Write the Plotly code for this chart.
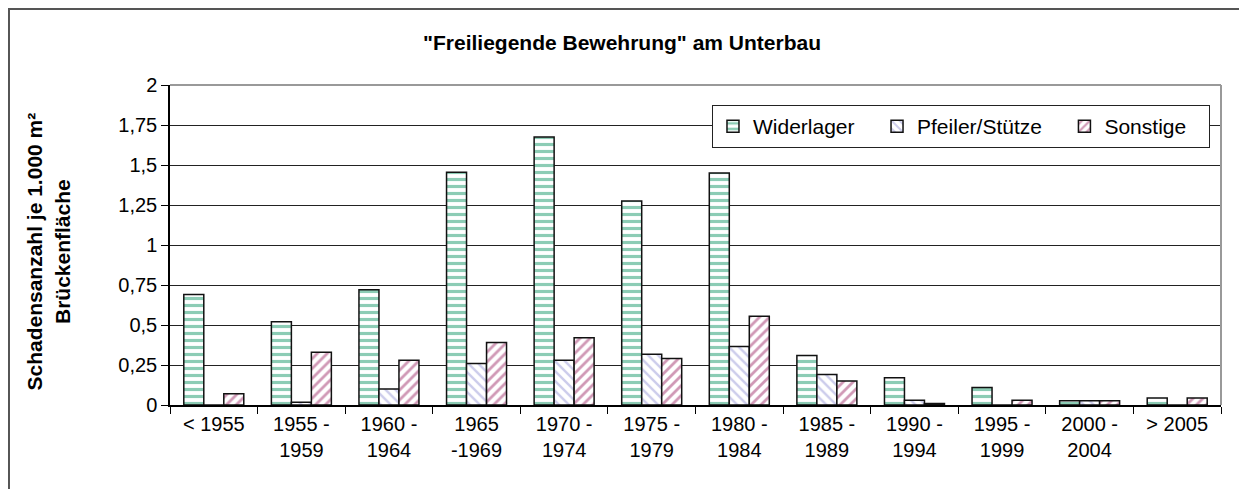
import plotly.graph_objects as go

categories = ["< 1955", "1955 -<br>1959", "1960 -<br>1964", "1965<br>-1969", "1970 -<br>1974",
              "1975 -<br>1979", "1980 -<br>1984", "1985 -<br>1989", "1990 -<br>1994",
              "1995 -<br>1999", "2000 -<br>2004", "> 2005"]
widerlager = [0.69, 0.52, 0.72, 1.455, 1.675, 1.275, 1.45, 0.31, 0.17, 0.11, 0.027, 0.044]
pfeiler = [0.0, 0.017, 0.10, 0.26, 0.28, 0.317, 0.365, 0.19, 0.03, 0.0, 0.027, 0.0]
sonstige = [0.07, 0.33, 0.28, 0.39, 0.42, 0.29, 0.555, 0.15, 0.01, 0.03, 0.027, 0.044]
tick_vals = [0, 0.25, 0.5, 0.75, 1, 1.25, 1.5, 1.75, 2]
tick_text = ["0", "0,25", "0,5", "0,75", "1", "1,25", "1,5", "1,75", "2"]

FONT = "Liberation Sans, Arial, sans-serif"
PAD = "\u00a0\u00a0\u00a0"

fig = go.Figure()
series = [
    ("Widerlager", widerlager, "#1a9a6c", "-", 0.45),
    ("Pfeiler/Stütze", pfeiler, "#9a9ad8", "\\", 0.35),
    ("Sonstige", sonstige, "#a2336e", "/", 0.4),
]
for name, vals, col, shape, sol in series:
    fig.add_trace(go.Bar(
        name=name + PAD, x=categories, y=vals,
        marker=dict(color="white",
                    line=dict(color="#111", width=1.5),
                    pattern=dict(shape=shape, fgcolor=col, bgcolor="white",
                                 size=7, solidity=sol)),
    ))

fig.update_layout(
    width=1247, height=489,
    margin=dict(l=162, r=34, t=77, b=92),
    paper_bgcolor="white", plot_bgcolor="white",
    barmode="group", bargap=0.315, bargroupgap=0,
    font=dict(family=FONT, size=20, color="black"),
    title=dict(text='<b>"Freiliegende Bewehrung" am Unterbau</b>',
               x=0.4924, xanchor="center", y=0.930, yanchor="middle",
               font=dict(family=FONT, size=21, color="black")),
    legend=dict(orientation="h", x=0.7526, y=0.9375, xanchor="center", yanchor="top",
                bgcolor="white", bordercolor="#222", borderwidth=1,
                font=dict(family=FONT, size=21), itemwidth=30,
                traceorder="normal"),
    xaxis=dict(type="category", showline=True, linecolor="black", linewidth=1.5,
               ticks="outside", tickson="boundaries", ticklen=7, tickcolor="black",
               tickfont=dict(family=FONT, size=20), showgrid=False, mirror=False),
    yaxis=dict(range=[0, 2], tickvals=tick_vals, ticktext=tick_text,
               showline=True, linecolor="black", linewidth=1.5,
               ticks="outside", ticklen=7, tickcolor="black",
               showgrid=True, gridcolor="#222", gridwidth=1,
               tickfont=dict(family=FONT, size=20),
               zeroline=False),
)

# y-axis title as annotation for exact placement
fig.add_annotation(text="<b>Schadensanzahl je 1.000 m²<br>Brückenfläche</b>",
                   xref="paper", yref="paper", x=-0.1156, y=0.478,
                   xanchor="center", yanchor="middle", textangle=-90,
                   showarrow=False, font=dict(family=FONT, size=21, color="black"))

# plot area border (grey top/right)
fig.add_shape(type="line", xref="paper", yref="paper", x0=0, x1=1, y0=1, y1=1,
              line=dict(color="#999", width=2))
fig.add_shape(type="line", xref="paper", yref="paper", x0=1, x1=1, y0=0, y1=1,
              line=dict(color="#999", width=2))
# outer chart frame
fig.add_shape(type="rect", xref="paper", yref="paper",
              x0=-0.1532, x1=1.05, y0=-0.40, y1=1.2375,
              line=dict(color="#555", width=2), layer="below")

fig.write_html("out.html")
